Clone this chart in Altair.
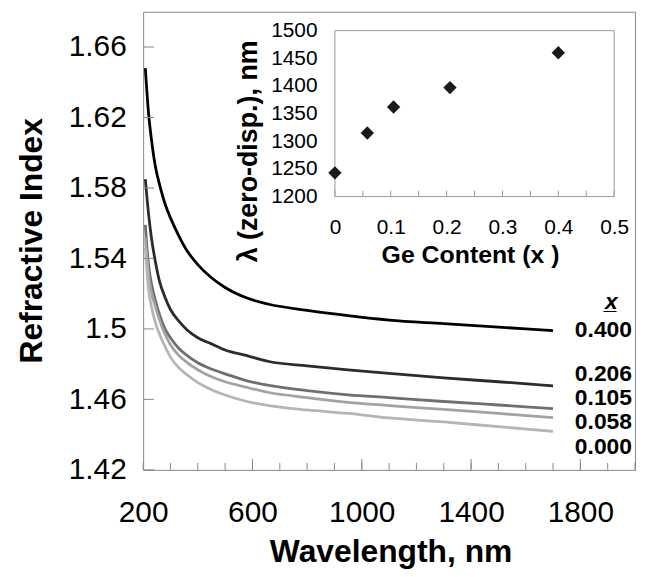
import altair as alt
import pandas as pd

# ---------------- main chart data ----------------
wavelength = [208, 220, 230, 245, 260, 280, 300, 330, 360, 400, 450, 500,
              580, 660, 800, 950, 1100, 1300, 1500, 1700]
n_0400 = [1.648, 1.622, 1.608, 1.592, 1.582, 1.571, 1.563, 1.553, 1.5445, 1.5365,
          1.529, 1.5235, 1.5175, 1.514, 1.5105, 1.5075, 1.505, 1.503, 1.501, 1.499]
n_0206 = [1.585, 1.565, 1.552, 1.538, 1.527, 1.518, 1.511, 1.5045, 1.4995, 1.495,
          1.4915, 1.488, 1.4848, 1.4815, 1.479, 1.4767, 1.4748, 1.4722, 1.470, 1.4677]
n_0105 = [1.559, 1.536, 1.526, 1.516, 1.508, 1.500, 1.495, 1.489, 1.485, 1.4808,
          1.4772, 1.4745, 1.4705, 1.468, 1.465, 1.4626, 1.461, 1.4588, 1.4568, 1.4548]
n_0058 = [1.552, 1.530, 1.521, 1.5125, 1.505, 1.497, 1.491, 1.485, 1.481, 1.4768,
          1.4728, 1.470, 1.4668, 1.4639, 1.461, 1.4583, 1.4565, 1.4543, 1.452, 1.4497]
n_0000 = [1.546, 1.522, 1.513, 1.5035, 1.497, 1.490, 1.484, 1.478, 1.474, 1.4695,
          1.4655, 1.4625, 1.4588, 1.4565, 1.454, 1.452, 1.4495, 1.4472, 1.4445, 1.4419]

series_names = ["0.400", "0.206", "0.105", "0.058", "0.000"]
series_values = [n_0400, n_0206, n_0105, n_0058, n_0000]
series_colors = ["#000000", "#2b2b2b", "#6f6f6f", "#a3a3a3", "#b5b5b5"]

# end-of-curve labels (text, position in data units)
label_text = ["0.400", "0.206", "0.105", "0.058", "0.000"]
label_n = [1.4956, 1.4702, 1.4567, 1.4430, 1.4290]
label_lam = 1989
header_text = "x\u0332"
header_lam = 1913
header_n = 1.5114

x_tick_labels = [200, 600, 1000, 1400, 1800]
x_minor_ticks = list(range(200, 2001, 100))
x_major_ticks = [600, 1000, 1400, 1800]
y_tick_labels = [1.42, 1.46, 1.5, 1.54, 1.58, 1.62, 1.66]

# ---------------- inset data ----------------
ge_content = [0, 0.058, 0.105, 0.206, 0.400]
zero_disp = [1243, 1315, 1362, 1397, 1460]
inset_x_labels = [0, 0.1, 0.2, 0.3, 0.4, 0.5]
inset_x_ticks = [0, 0.05, 0.1, 0.15, 0.2, 0.25, 0.3, 0.35, 0.4, 0.45, 0.5]
inset_y_labels = [1200, 1250, 1300, 1350, 1400, 1450, 1500]

FONT = "Liberation Sans"

rows = []
for name, vals in zip(series_names, series_values):
    for lam, n in zip(wavelength, vals):
        rows.append({"series": name, "lam": lam, "n": n})
df_curves = pd.DataFrame(rows)

df_minor = pd.DataFrame({"lam": x_minor_ticks, "n": [1.42] * len(x_minor_ticks)})
df_major = pd.DataFrame({"lam": x_major_ticks, "n": [1.42] * len(x_major_ticks)})
df_yt = pd.DataFrame({"lam": [200] * len(y_tick_labels), "n": y_tick_labels})
df_lab = pd.DataFrame({"lam": [label_lam] * len(label_text), "n": label_n, "t": label_text})
df_head = pd.DataFrame({"lam": [header_lam], "n": [header_n], "t": [header_text]})

xs = alt.Scale(domain=[200, 2000], nice=False, zero=False)
ys = alt.Scale(domain=[1.42, 1.68], nice=False, zero=False)

xaxis = alt.Axis(values=x_tick_labels, format="d", title="Wavelength, nm",
                 ticks=False, domain=False, grid=False, labelFlush=False,
                 labelOverlap=False, labelFont=FONT, labelFontSize=30,
                 labelColor="black", labelPadding=52, labelBaseline="alphabetic",
                 titleFont=FONT, titleFontSize=32, titleFontWeight="bold",
                 titleColor="black", titleX=249, titleY=92,
                 titleBaseline="alphabetic", titleAlign="center")
yaxis = alt.Axis(values=y_tick_labels, format="~g", title="Refractive Index",
                 ticks=False, domain=False, grid=False, labelFlush=False,
                 labelOverlap=False, labelFont=FONT, labelFontSize=30,
                 labelColor="black", labelPadding=17,
                 titleFont=FONT, titleFontSize=32, titleFontWeight="bold",
                 titleColor="black", titleX=-112, titleY=230, titleAngle=270,
                 titleAlign="center", titleBaseline="middle")

X = alt.X("lam:Q", scale=xs, axis=xaxis)
Y = alt.Y("n:Q", scale=ys, axis=yaxis)

curves = alt.Chart(df_curves).mark_line(strokeWidth=2.8, interpolate="monotone").encode(
    x=X, y=Y,
    color=alt.Color("series:N", scale=alt.Scale(domain=series_names, range=series_colors),
                    legend=None),
)
minor = alt.Chart(df_minor).mark_rule(color="#888888", strokeWidth=1, y2Offset=-7).encode(
    x=X, y=Y, y2=alt.Y2("n:Q"))
major = alt.Chart(df_major).mark_rule(color="#888888", strokeWidth=1, y2Offset=-11).encode(
    x=X, y=Y, y2=alt.Y2("n:Q"))
yticks = alt.Chart(df_yt).mark_rule(color="#888888", strokeWidth=1, x2Offset=11).encode(
    x=X, x2=alt.X2("lam:Q"), y=Y)
labels = alt.Chart(df_lab).mark_text(align="right", baseline="alphabetic", font=FONT,
                                     fontSize=23, fontWeight="bold", color="black").encode(
    x=X, y=Y, text="t:N")
header = alt.Chart(df_head).mark_text(align="center", baseline="alphabetic", font=FONT,
                                      fontSize=23, fontWeight="bold", fontStyle="italic",
                                      color="black").encode(x=X, y=Y, text="t:N")

main = alt.layer(curves, minor, major, yticks, labels, header)

# ---------------- inset ----------------
df_pts = pd.DataFrame({"ge": ge_content, "zd": zero_disp})
df_gt = pd.DataFrame({"ge": inset_x_ticks, "zd": [1200] * len(inset_x_ticks)})
df_frame = pd.DataFrame({"ge": [0], "ge2": [0.5], "zd": [1200], "zd2": [1500]})

gx = alt.Scale(domain=[0, 0.5], range=[193, 474], nice=False, zero=False)
gy = alt.Scale(domain=[1200, 1500], range=[186, 19], nice=False, zero=False)
gxaxis = alt.Axis(orient="bottom", offset=-275, values=inset_x_labels, format="~g",
                  title="Ge Content (x )", ticks=False, domain=False, grid=False,
                  labelFlush=False, labelOverlap=False, labelFont=FONT, labelFontSize=21,
                  labelColor="black", labelPadding=37, labelBaseline="alphabetic",
                  titleFont=FONT, titleFontSize=25, titleFontWeight="bold",
                  titleColor="black", titleX=329, titleY=66,
                  titleBaseline="alphabetic", titleAlign="center")
gyaxis = alt.Axis(orient="left", offset=-193, values=inset_y_labels, format="d",
                  title="λ (zero-disp.), nm", ticks=False, domain=False, grid=False,
                  labelFlush=False, labelOverlap=False, labelFont=FONT, labelFontSize=21,
                  labelColor="black", labelPadding=18,
                  titleFont=FONT, titleFontSize=27, titleFontWeight="bold",
                  titleColor="black", titleX=-87, titleY=140, titleAngle=270,
                  titleAlign="center", titleBaseline="middle")
GX = alt.X("ge:Q", scale=gx, axis=gxaxis)
GY = alt.Y("zd:Q", scale=gy, axis=gyaxis)

frame = alt.Chart(df_frame).mark_rect(fillOpacity=0, stroke="#999999", strokeWidth=1).encode(
    x=GX, x2=alt.X2("ge2:Q"), y=GY, y2=alt.Y2("zd2:Q"))
gticks = alt.Chart(df_gt).mark_rule(color="#999999", strokeWidth=1, y2Offset=-6).encode(
    x=GX, y=GY, y2=alt.Y2("zd:Q"))
pts = alt.Chart(df_pts).mark_point(shape="diamond", filled=True, size=180,
                                   color="#1a1a1a", opacity=1).encode(x=GX, y=GY)

inset = alt.layer(frame, gticks, pts)

chart = alt.layer(main, inset).resolve_scale(x="independent", y="independent").properties(
    width=495, height=461,
    autosize=alt.AutoSizeParams(type="none"),
    padding={"left": 136, "top": 2, "right": 4, "bottom": 98},
).configure_view(stroke="#888888", strokeWidth=1)

chart.save("out.html", embed_options={"renderer": "svg", "actions": False})
